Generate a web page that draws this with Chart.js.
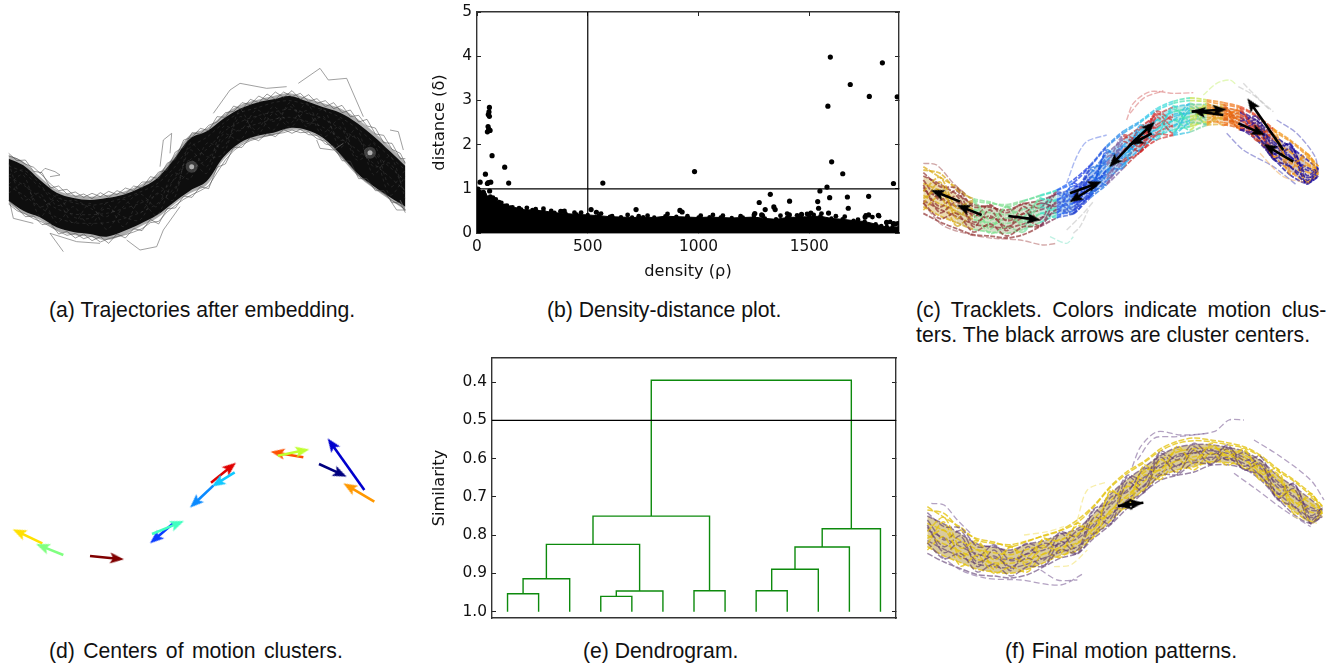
<!DOCTYPE html>
<html>
<head>
<meta charset="utf-8">
<script src="https://cdn.jsdelivr.net/npm/chart.js@4"></script>
<style>
  html, body { margin: 0; background: #fff; width: 1342px; height: 667px; overflow: hidden; }
  canvas { position: absolute; }
  .cap { position: absolute; font: 21.2px "Liberation Sans", sans-serif; color: #111; white-space: nowrap; line-height: 24px; }
</style>
</head>
<body>
<canvas id="panelA" width="420" height="200" style="left:0;top:60px"></canvas>
<canvas id="panelB" width="480" height="290" style="left:430px;top:0"></canvas>
<canvas id="panelC" width="420" height="190" style="left:910px;top:70px"></canvas>
<canvas id="panelD" width="400" height="170" style="left:0;top:420px"></canvas>
<canvas id="panelE" width="480" height="280" style="left:430px;top:350px"></canvas>
<canvas id="panelF" width="420" height="190" style="left:910px;top:410px"></canvas>

<div class="cap" style="left:49px;top:298px">(a) Trajectories after embedding.</div>
<div class="cap" style="left:547px;top:298px">(b) Density-distance plot.</div>
<div class="cap" style="left:916px;top:298px;word-spacing:4.6px">(c) Tracklets. Colors indicate motion clus-</div>
<div class="cap" style="left:916px;top:323px">ters. The black arrows are cluster centers.</div>
<div class="cap" style="left:49px;top:639px;word-spacing:2.5px">(d) Centers of motion clusters.</div>
<div class="cap" style="left:583px;top:639px">(e) Dendrogram.</div>
<div class="cap" style="left:1005px;top:639px;word-spacing:0.8px">(f) Final motion patterns.</div>

<script>
// (a) embedded trajectories
const bandX = [26,70,120,170,220,270,320,370,420,470,520,570,620,670,720,770,820,870,920,970,1020,1070,1120,1170,1216];
const bandUpper = [285,305,350,390,405,410,405,395,375,345,290,225,205,165,135,120,108,100,115,130,145,175,215,260,305];
const bandLower = [430,460,480,510,525,530,540,525,500,475,435,400,375,300,255,235,225,210,215,240,290,345,385,420,450];
const coreUpper = [296,316,360,398,414,420,414,404,384,356,300,236,214,176,146,128,118,108,124,142,158,188,228,274,318];
const coreLower = [422,452,472,502,516,522,530,514,492,466,428,392,364,292,248,228,218,204,210,234,282,338,378,412,440];
const fuzzX = [26,51,76,101,126,151,176,201,226,251,276,301,326,351,376,401,426,451,476,501,526,551,576,601,626,651,676,701,726,751,776,801,826,851,876,901,926,951,976,1001,1026,1051,1076,1101,1126,1151,1176,1201,1216];
const fuzzLines = [
  [288,296,312,322,345,372,392,388,410,402,416,398,412,392,402,378,384,350,356,310,298,240,232,205,212,170,172,138,148,118,128,102,118,96,110,100,124,116,140,128,158,150,186,178,222,226,268,280,310],
  [280,302,300,334,338,384,378,402,396,412,400,410,394,404,384,392,366,366,336,330,276,262,218,222,196,186,158,154,128,134,108,120,96,112,92,118,104,130,122,146,136,170,166,198,204,248,250,296,296],
  [432,452,462,476,486,500,514,526,520,536,528,546,536,530,524,516,506,488,484,456,436,418,404,392,378,338,300,272,254,242,234,228,222,218,210,218,216,236,244,268,292,316,348,366,386,400,422,436,452],
  [422,444,470,468,494,490,522,514,534,522,542,530,550,522,534,506,512,478,492,446,444,408,412,380,386,322,312,262,262,232,242,220,230,208,220,208,224,226,252,258,302,304,356,356,392,392,428,428,458]
];
const bandStrands = [
  [318,336,382,412,428,436,428,414,396,372,326,262,232,190,158,144,128,122,134,150,172,204,246,290,330],
  [350,375,412,446,462,464,460,446,430,404,362,300,268,216,186,168,156,148,160,176,206,236,278,322,362],
  [378,405,442,472,488,490,488,476,458,432,388,332,298,240,208,192,178,172,184,202,234,268,310,352,392],
  [345,330,372,436,420,444,470,418,460,380,398,270,320,200,212,150,184,140,190,170,240,230,320,310,400],
  [400,370,440,420,490,430,508,440,402,440,340,356,250,262,170,210,140,190,130,216,178,290,250,380,330],
  [310,420,400,488,440,498,430,500,420,466,360,300,340,222,240,170,210,128,200,146,262,206,344,288,416],
  [372,345,470,405,470,475,445,470,480,400,420,250,290,282,150,226,160,202,152,230,200,300,280,405,350]
];
const outlierX = [
  [120,135,165,180,150], [480,490,515,510], [190,150,230,300], [380,420,470,490,540],
  [640,690,720,800,860], [895,960,985,1040,1090], [950,960,1000,1030], [1170,1195,1210],
  [1170,1190,1216,1200], [30,40,100]
];
const outlierY = [
  [340,325,335,345,350], [320,240,220,280], [575,520,545,550], [540,570,560,510,440],
  [160,90,70,85,80], [70,25,60,55,170], [240,265,270,250], [210,215,270],
  [420,450,450,420], [430,475,490]
];
const holeX = [575,1110];
const holeY = [320,278];

// (b) density-distance plot
const rhoTicks = [0,500,1000,1500];
const deltaTicks = [0,1,2,3,4,5];
const rhoCut = 500;
const deltaCut = 1;
const cloudRho = [0,15,30,50,75,100,125,150,175,200,250,300,350,400,450,500,550,600,650,700,750,800,850,900,950,1000,1050,1100,1150,1200,1250,1300,1350,1400,1450,1500,1550,1600,1650,1700,1750,1800,1825,1850,1875,1905];
const cloudDelta = [0.95,0.88,0.82,0.78,0.75,0.7,0.62,0.58,0.54,0.53,0.52,0.5,0.46,0.44,0.42,0.41,0.39,0.37,0.36,0.35,0.36,0.35,0.38,0.37,0.36,0.35,0.36,0.35,0.34,0.35,0.36,0.33,0.31,0.35,0.36,0.37,0.38,0.33,0.31,0.28,0.26,0.2,0.16,0.14,0.13,0.12];
const bumpRho = [5,12,22,35,48,60,72,85,110,135,160,190,225,265,300,335,385,395,440,470,560,610,680,730,770,860,950,1010,1065,1110,1190,1250,1290,1370,1400,1445,1490,1520,1555,1620,1660,1720,1755,1785,1815,1865,1900];
const bumpDelta = [1.0,0.93,0.9,0.86,0.8,0.82,0.8,0.76,0.68,0.62,0.58,0.56,0.57,0.54,0.55,0.5,0.49,0.5,0.46,0.46,0.44,0.38,0.41,0.38,0.39,0.43,0.38,0.39,0.41,0.39,0.38,0.41,0.39,0.39,0.44,0.4,0.43,0.41,0.44,0.38,0.37,0.3,0.4,0.36,0.38,0.25,0.22];
const pointRho = [1595,1830,1685,1771,1897,1584,56,54,51,56,50,53,47,59,68,125,1601,982,38,1651,14,47,51,62,143,568,1880,1580,1548,57,29,1324,1592,1672,1768,1274,1411,1538,1340,1346,1301,1542,1676,718,916,926,515,539,378,1587,1507,1465,1254,1285,1410,1768,1812,1752,1849,1880,1888];
const pointDelta = [3.98,3.85,3.36,3.09,3.08,2.87,2.84,2.74,2.68,2.64,2.41,2.35,2.29,2.32,1.75,1.49,1.61,1.39,1.33,1.34,1.15,1.12,1.14,1.15,1.13,1.13,1.12,1.04,0.95,0.95,0.92,0.875,0.8,0.815,0.83,0.69,0.72,0.71,0.59,0.53,0.53,0.56,0.56,0.53,0.51,0.475,0.53,0.47,0.49,0.45,0.45,0.42,0.44,0.41,0.41,0.41,0.4,0.36,0.24,0.21,0.2];

// (c) and (f) tracklets
const trackX = [40,90,140,190,240,290,340,390,440,490,540,590,640,690,740,790,840,890,940,990,1040,1090,1140,1190,1225];
const trackStrands = [
  [290,322,352,390,400,404,392,378,362,338,290,232,190,158,122,100,92,95,104,114,140,182,214,256,290],
  [318,342,372,402,412,420,402,392,372,356,310,252,208,172,136,112,104,104,112,124,152,196,230,268,296],
  [340,362,392,418,428,434,418,406,388,372,326,272,226,188,150,126,116,114,120,134,166,208,246,280,300],
  [360,384,410,432,444,448,432,420,400,386,342,286,240,202,164,140,128,122,130,142,176,222,262,292,304],
  [376,402,424,448,458,460,448,432,412,398,356,302,256,214,176,152,140,132,138,150,188,236,274,306,310],
  [392,418,440,462,470,474,462,444,426,410,368,316,270,226,188,166,152,142,148,160,198,248,288,322,314],
  [410,438,458,478,486,490,478,458,436,422,378,332,284,238,200,180,170,156,158,170,206,258,304,334,318],
  [352,410,378,470,420,482,410,450,370,420,300,326,200,230,130,170,110,150,105,168,150,252,220,330,292],
  [402,336,446,396,478,408,470,384,430,340,372,240,282,166,196,108,164,100,146,116,194,176,296,250,312],
  [330,390,362,440,404,452,430,400,408,362,350,262,246,178,172,134,130,118,150,128,170,214,258,300,300],
  [300,310,360,386,396,410,394,376,360,330,286,228,184,154,116,94,84,90,98,110,136,176,210,250,288],
  [430,456,476,494,498,504,494,470,444,430,384,344,294,246,210,196,186,166,164,176,210,264,314,340,320],
  [420,380,468,436,490,470,486,430,442,400,380,300,292,196,208,150,180,128,166,140,212,194,312,286,316],
  [308,350,354,410,408,428,400,414,366,380,296,280,196,210,124,150,100,134,112,152,140,232,224,316,294],
  [385,360,432,420,466,444,456,412,420,376,336,310,230,242,150,186,122,160,124,176,168,260,240,338,304],
  [345,428,396,456,438,470,444,466,394,430,322,342,216,244,142,190,120,164,116,180,160,266,236,342,296],
  [364,322,414,392,450,412,440,388,392,348,358,246,264,180,180,118,150,108,136,122,182,190,280,262,308],
  [398,446,430,486,462,498,470,468,418,432,372,340,276,248,194,194,158,162,142,178,196,268,290,338,318]
];
const bandColors = ['#c9a030','#c9a030','#b59a40','#8fae68','#8fa870','#9aa878','#88b888','#60c8a8','#3a8fe0','#2a60e0','#2f78e0','#2f98e0','#2fa8e0','#7a78a8','#50b8c8','#50c8c0','#a8c870','#e09a40','#e08a40','#a05060','#a04a60','#7a5088','#8a6a60','#e0a050','#e0a050'];
const strandColorsA = ['#d8a810','#d8a810','#c8a020','#80e090','#80e090','#80d890','#70e0a0','#40e0c0','#2060f0','#1030e0','#1a50e0','#2080e8','#20a0e8','#20c0e8','#30d8d8','#40e0b0','#c0e040','#f08820','#f07010','#e04020','#e04810','#f09010','#f09010','#f09810','#f09810'];
const strandColorsB = ['#903030','#903030','#903030','#903030','#903030','#903030','#903030','#803050','#4060d0','#2040d0','#2070e0','#8060a0','#c03030','#d02020','#d04040','#30c0e0','#70d0a0','#e0b030','#e06010','#301090','#200880','#100090','#1000a0','#1000a0','#1000a0'];
const trackFringeX = [[650,670,720,790,850],[660,700,760],[880,920,960,980],[985,1030,1080],[1000,1050,1090],[470,500,530,590],[1100,1160,1215,1225],[950,1000,1090,1160],[1050,1120,1200],[470,520,550],[490,510,535],[180,250,330,400,440],[420,470,490],[40,80,130,170],[40,90,130,190]];
const trackFringeY = [[150,100,65,70,68],[130,85,62],[75,40,30,45],[50,75,120],[40,90,125],[340,260,215,195],[150,190,260,315],[190,240,290,345],[250,320,340],[480,430,395],[490,470,420],[495,505,510,525,520],[500,520,500],[280,285,340,375],[400,460,480,495]];
const trackFringeColors = ['#d05050','#d05050','#c0f060','#b0b0b0','#b0b0b0','#4060e0','#3030b0','#3030b0','#f0a040','#b0b0b0','#b0b0b0','#a04040','#70e0c0','#903030','#903030'];
const finalFringeX = [[655,680,730,800,900,945,990],[670,720,790,880],[1020,1100,1190,1230],[960,1030,1110,1190],[52,90,130,170],[60,140,220,320,440,510],[380,430,490],[490,520,580],[420,470,520],[330,400,450],[1140,1210]];
const finalFringeY = [[170,110,65,75,65,30,30],[150,85,80,70],[90,140,210,270],[190,240,300,350],[280,285,330,370],[420,480,505,510,525,490],[480,510,510],[330,240,215],[470,465,420],[375,365,350],[320,340]];
const finalFringeColors = ['#70508c','#70508c','#70508c','#70508c','#70508c','#70508c','#70508c','#f2e060','#f2e060','#f2e060','#f2e060'];

// black cluster-center arrows over (c), and the single one over (f)
const blackTailX = [215,150,295,480,560,660,725,680,845,940,985,1120,1150];
const blackTailY = [435,395,438,370,345,225,190,205,125,135,160,240,275];
const blackTipX = [140,62,392,575,478,735,660,597,950,845,1065,1012,1060];
const blackTipY = [405,360,450,335,397,155,225,292,118,122,195,85,222];
const finalTailX = [688,612];
const finalTailY = [278,288];
const finalTipX = [612,688];
const finalTipY = [288,278];

// (d) motion cluster centers
const centerColors = ['#ffe000','#80ff80','#800000','#0a3cff','#40ffc0','#e00000','#10c8ff','#0a8aff','#ff5000','#c0ff30','#00007f','#0000cd','#ff9800'];
const centerTailX = [127,190,270,520,456,633,704,640,910,833,957,1093,1123];
const centerTailY = [370,405,408,310,342,188,157,197,112,107,132,210,245];
const centerTipX = [38,108,372,450,552,708,635,570,812,928,1040,983,1030];
const centerTipY = [328,372,418,370,303,128,200,263,95,88,170,55,190];

// (e) dendrogram
const similarityTicks = [0.4,0.5,0.6,0.7,0.8,0.9,1.0];
const similarityCut = 0.5;
const linkLeft = [5,10,35,40,17.5,65,32.5,85,90,97.5,106.25,51.25];
const linkRight = [15,25,45,55,47.5,75,70,95,105,115,125,115.625];
const linkLeftFrom = [1,0.953,1,0.96,0.914,1,0.824,1,0.945,0.889,0.831,0.75];
const linkRightFrom = [1,1,1,1,0.946,1,0.945,1,1,1,1,0.783];
const linkHeight = [0.953,0.914,0.96,0.946,0.824,0.945,0.75,0.945,0.889,0.831,0.783,0.395];

Chart.defaults.font.family = '"DejaVu Sans", sans-serif';
Chart.defaults.color = '#111';
Chart.defaults.animation = false;
Chart.defaults.responsive = false;
Chart.defaults.plugins.legend.display = false;
Chart.defaults.plugins.tooltip.enabled = false;
Chart.defaults.layout.autoPadding = false;

const zip = (xs, ys) => xs.map((x, i) => ({ x, y: ys[i] }));

function line(xs, ys, color, width, more) {
  return Object.assign({ data: zip(xs, ys), showLine: true, pointRadius: 0, borderColor: color, borderWidth: width }, more);
}

// the filled edge goes after its target, the list gets reversed before drawing
function band(list, xs, up, low, color, segColors) {
  list.push(line(xs, up, 'transparent', 0, { tension: 0.35 }));
  const d = line(xs, low, 'transparent', 0, { tension: 0.35, fill: '+1', backgroundColor: color });
  if (segColors) d.segment = { backgroundColor: c => segColors[c.p0DataIndex] + '60' };
  list.push(d);
}

function arrowHead(color) {
  const c = document.createElement('canvas');
  c.width = 32; c.height = 32;
  const g = c.getContext('2d');
  g.fillStyle = color;
  g.beginPath();
  g.moveTo(16, 16);
  g.lineTo(21.5, 30);
  g.lineTo(16, 27);
  g.lineTo(10.5, 30);
  g.closePath();
  g.fill();
  return c;
}

function arrows(list, tx, ty, hx, hy, colors) {
  tx.forEach((v, i) => {
    const dx = hx[i] - v, dy = hy[i] - ty[i];
    const len = Math.hypot(dx, dy) / 3;
    const color = Array.isArray(colors) ? colors[i] : colors;
    list.push(line([v, hx[i]], [ty[i], hy[i]], color, 2.6, {
      borderDash: [Math.max(len - 9, 1), 999],
      pointStyle: [false, arrowHead(color)],
      pointRadius: [0, 8],
      pointRotation: Math.atan2(dx, -dy) * 180 / Math.PI
    }));
  });
}

function picture(id, xMin, xMax, yMax, list) {
  new Chart(document.getElementById(id), {
    type: 'scatter',
    data: { datasets: list.slice().reverse() },
    options: {
      layout: { padding: 0 },
      scales: {
        x: { type: 'linear', display: false, min: xMin, max: xMax },
        y: { type: 'linear', display: false, min: 0, max: yMax, reverse: true }
      }
    }
  });
}

// matplotlib look: ticks point inward on all four sides
function axis(position, size, min, max, values, showLabels, extra) {
  const horizontal = position === 'top' || position === 'bottom';
  return Object.assign({
    type: 'linear', position, min, max,
    axis: horizontal ? 'x' : 'y',
    border: { display: true, color: '#333', width: 1.4 },
    grid: { drawOnChartArea: false, drawTicks: values.length > 0, tickLength: -4, tickColor: '#222', tickWidth: 1 },
    ticks: { display: showLabels, maxRotation: 0, autoSkip: false, padding: 9, color: '#111', font: { size: 15.4 },
      callback: v => extra && extra.digits ? v.toFixed(extra.digits) : String(v) },
    afterBuildTicks: s => { s.ticks = values.map(value => ({ value })); },
    afterFit: s => {
      if (horizontal) s.height = size; else s.width = size;
      // tick labels must not push the plot area in
      s.paddingTop = s.paddingBottom = s.paddingLeft = s.paddingRight = 0;
    }
  }, extra);
}

// (a)
const listA = [];
band(listA, bandX, bandUpper, bandLower, 'rgba(50,50,50,0.4)');
band(listA, bandX, coreUpper, coreLower, '#0e0e0e');
outlierX.forEach((xs, i) => listA.push(line(xs, outlierY[i], 'rgba(120,120,120,0.7)', 1)));
fuzzLines.forEach(ys => listA.push(line(fuzzX, ys, 'rgba(70,70,70,0.6)', 0.9)));
bandStrands.forEach(ys => listA.push(line(bandX, ys, 'rgba(130,130,130,0.3)', 0.7, { tension: 0.3, borderDash: [3, 3] })));
listA.push(line(holeX, holeY, 'transparent', 0, { showLine: false, pointRadius: 6, pointBackgroundColor: 'rgba(150,150,150,0.35)', pointBorderWidth: 0 }));
listA.push(line(holeX, holeY, 'transparent', 0, { showLine: false, pointRadius: 2.5, pointBackgroundColor: 'rgba(225,225,225,0.7)', pointBorderWidth: 0 }));
picture('panelA', 0, 1260, 600, listA);

// (b)
const listB = [
  line(cloudRho, cloudDelta, '#000', 1, { fill: 'origin', backgroundColor: '#000', pointRadius: 2.2, pointBackgroundColor: '#000', pointBorderWidth: 0 }),
  line(bumpRho, bumpDelta, 'transparent', 0, { showLine: false, pointRadius: 2.4, pointBackgroundColor: '#000', pointBorderWidth: 0 }),
  line(pointRho, pointDelta, 'transparent', 0, { showLine: false, pointRadius: 2.6, pointBackgroundColor: '#000', pointBorderWidth: 0 }),
  line([rhoCut, rhoCut], [0, 5], '#000', 1.2),
  line([0, 1905], [deltaCut, deltaCut], '#000', 1.2)
];
new Chart(document.getElementById('panelB'), {
  type: 'scatter',
  data: { datasets: listB.reverse() },
  options: {
    layout: { padding: 0 },
    scales: {
      x: axis('bottom', 57, 0, 1905, rhoTicks, true, { title: { display: true, text: 'density (ρ)', font: { size: 16.2 }, padding: { top: 0, bottom: 8 } } }),
      y: axis('left', 47, 0, 5, deltaTicks, true, { title: { display: true, text: 'distance (δ)', font: { size: 16.2 }, padding: { top: 0, bottom: 6 } } }),
      x2: axis('top', 12, 0, 1905, rhoTicks, false),
      y2: axis('right', 11, 0, 5, deltaTicks, false)
    }
  }
});

// (c)
const listC = [];
band(listC, trackX, trackStrands[1], trackStrands[6], '#888', bandColors);
trackStrands.forEach((ys, i) => {
  const colors = i % 2 ? strandColorsB : strandColorsA;
  listC.push(line(trackX, ys, '#888', 1.8, { tension: 0.3, borderDash: [5, 1.5], segment: { borderColor: c => colors[c.p0DataIndex] + 'b0' } }));
});
trackFringeX.forEach((xs, i) => listC.push(line(xs, trackFringeY[i], trackFringeColors[i] + '70', 1.4, { tension: 0.3, borderDash: [6, 2] })));
arrows(listC, blackTailX, blackTailY, blackTipX, blackTipY, '#000');
picture('panelC', 0, 1260, 570, listC);

// (d)
const listD = [];
arrows(listD, centerTailX, centerTailY, centerTipX, centerTipY, centerColors);
picture('panelD', 0, 1200, 510, listD);

// (e)
const listE = [];
linkHeight.forEach((h, i) => {
  listE.push(line([linkLeft[i], linkLeft[i], linkRight[i], linkRight[i]], [linkLeftFrom[i], h, h, linkRightFrom[i]], '#0d8a0d', 1.4));
});
listE.push(line([0, 130], [similarityCut, similarityCut], '#000', 1.2));
new Chart(document.getElementById('panelE'), {
  type: 'scatter',
  data: { datasets: listE.reverse() },
  options: {
    layout: { padding: 0 },
    scales: {
      x: axis('bottom', 12, 0, 130, [], false),
      y: axis('left', 62, 0.3368, 1.0164, similarityTicks, true, { reverse: true, digits: 1, title: { display: true, text: 'Similarity', font: { size: 16.2 }, padding: { top: 0, bottom: 3 } } }),
      x2: axis('top', 8, 0, 130, [], false),
      y2: axis('right', 14, 0.3368, 1.0164, similarityTicks, false, { reverse: true })
    }
  }
});

// (f)
const listF = [];
band(listF, trackX, trackStrands[1], trackStrands[6], 'rgba(170,140,40,0.45)');
trackStrands.forEach((ys, i) => {
  listF.push(line(trackX, ys, i % 2 ? 'rgba(90,55,110,0.6)' : 'rgba(228,195,20,0.8)', 1.5, { tension: 0.3, borderDash: [6, 2] }));
});
finalFringeX.forEach((xs, i) => listF.push(line(xs, finalFringeY[i], finalFringeColors[i] + '88', 1.3, { tension: 0.3, borderDash: [6, 3] })));
arrows(listF, finalTailX, finalTailY, finalTipX, finalTipY, '#000');
picture('panelF', -12, 1248, 570, listF);
</script>
</body>
</html>
